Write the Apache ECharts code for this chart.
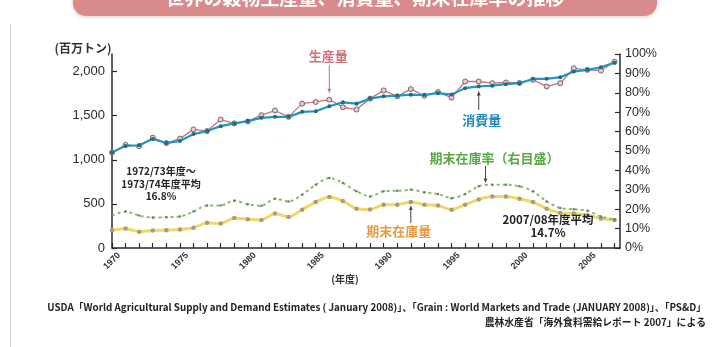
<!DOCTYPE html>
<html>
<head>
<meta charset="utf-8">
<script src="https://cdn.jsdelivr.net/npm/echarts@6/dist/echarts.min.js"></script>
<style>
  html, body { margin: 0; padding: 0; background: #ffffff; }
  #chart { width: 713px; height: 347px; }
</style>
</head>
<body>
<div id="chart"></div>
<script>
// 世界の穀物生産量・消費量・期末在庫量（百万トン）と期末在庫率（%）
const years = [
  1970, 1971, 1972, 1973, 1974, 1975, 1976, 1977, 1978, 1979,
  1980, 1981, 1982, 1983, 1984, 1985, 1986, 1987, 1988, 1989,
  1990, 1991, 1992, 1993, 1994, 1995, 1996, 1997, 1998, 1999,
  2000, 2001, 2002, 2003, 2004, 2005, 2006, 2007
];
const production = [
  1082, 1169, 1155, 1251, 1190, 1240, 1345, 1326, 1457, 1413,
  1435, 1506, 1559, 1487, 1637, 1656, 1682, 1596, 1570, 1694,
  1787, 1720, 1802, 1727, 1768, 1705, 1888, 1888, 1869, 1877,
  1872, 1907, 1832, 1869, 2038, 2020, 2012, 2113
];
const consumption = [
  1082, 1158, 1165, 1236, 1190, 1214, 1292, 1326, 1382, 1413,
  1439, 1476, 1487, 1487, 1544, 1551, 1607, 1652, 1637, 1694,
  1720, 1727, 1739, 1735, 1757, 1740, 1813, 1832, 1840, 1858,
  1869, 1918, 1918, 1937, 2001, 2020, 2049, 2102
];
const endingStocks = [
  202, 221, 184, 199, 202, 210, 229, 285, 277, 341,
  326, 318, 390, 352, 435, 521, 577, 532, 446, 438,
  491, 491, 521, 491, 483, 435, 491, 551, 584, 584,
  558, 521, 446, 397, 390, 371, 334, 318
];
const stockRatio = [
  16.8, 18.8, 16.7, 15.7, 15.9, 16.2, 18.8, 21.9, 21.9, 24.4,
  22.6, 21.8, 25.4, 24.0, 27.5, 32.6, 36.1, 33.5, 29.2, 26.6,
  29.2, 29.5, 30.0, 28.7, 27.8, 25.7, 27.8, 31.8, 32.6, 32.6,
  31.8, 29.2, 24.0, 20.6, 20.0, 19.2, 16.2, 14.7
];
const leftTicks = [0, 500, 1000, 1500, 2000];
const yearLabels = [1970, 1975, 1980, 1985, 1990, 1995, 2000, 2005];

const pair = (vals) => years.map((y, i) => [y, vals[i]]);

const NUM_FONT = 'Liberation Sans, Arial, sans-serif';
const JP_FONT = '"Noto Sans CJK JP", "Noto Sans", sans-serif';
const AXIS_COLOR = '#2b2b2b';

const chart = echarts.init(document.getElementById('chart'), null, { renderer: 'canvas' });

const option = {
  animation: false,
  backgroundColor: '#ffffff',
  grid: { left: 112, right: 93, top: 54, bottom: 99, containLabel: false },
  xAxis: {
    type: 'value',
    min: 1970,
    max: 2007.4,
    interval: 1,
    splitLine: { show: false },
    axisLine: { show: true, lineStyle: { color: AXIS_COLOR, width: 1.5 } },
    axisTick: { show: true, inside: true, length: 5, customValues: years,
                lineStyle: { color: AXIS_COLOR, width: 1.2 } },
    axisLabel: {
      customValues: yearLabels,
      rotate: 45,
      margin: 13,
      align: 'center',
      verticalAlign: 'middle',
      fontSize: 9,
      fontWeight: 'bold',
      color: '#333',
      fontFamily: NUM_FONT,
      formatter: (v) => String(v)
    }
  },
  yAxis: [
    {
      type: 'value',
      min: 0,
      max: 2200,
      position: 'left',
      splitLine: { show: false },
      axisLine: { show: true, lineStyle: { color: AXIS_COLOR, width: 1.5 } },
      axisTick: { show: true, inside: true, length: 5, customValues: leftTicks,
                  lineStyle: { color: AXIS_COLOR, width: 1.2 } },
      axisLabel: {
        customValues: leftTicks,
        margin: 7,
        fontSize: 13,
        color: '#2a2a2a',
        fontFamily: NUM_FONT,
        formatter: (v) => v.toLocaleString('en-US')
      }
    },
    {
      type: 'value',
      min: 0,
      max: 100,
      interval: 10,
      position: 'right',
      splitLine: { show: false },
      axisLine: { show: true, lineStyle: { color: AXIS_COLOR, width: 1.5 } },
      axisTick: { show: true, inside: true, length: 5, lineStyle: { color: AXIS_COLOR, width: 1.2 } },
      axisLabel: {
        margin: 5,
        fontSize: 12.5,
        color: '#2a2a2a',
        fontFamily: NUM_FONT,
        formatter: '{value}%'
      }
    }
  ],
  series: [
    {
      name: '期末在庫量',
      type: 'line',
      yAxisIndex: 0,
      data: pair(endingStocks),
      smooth: 0.25,
      lineStyle: { color: '#f2d764', width: 3 },
      symbol: 'circle',
      symbolSize: 4.5,
      itemStyle: { color: '#a89d7a', borderWidth: 0 },
      z: 2
    },
    {
      name: '期末在庫率',
      type: 'line',
      yAxisIndex: 1,
      data: pair(stockRatio),
      smooth: 0.3,
      lineStyle: { color: '#86bf6a', width: 2, type: [3, 3] },
      symbol: 'circle',
      symbolSize: 2.5,
      itemStyle: { color: '#6f7f6a', borderWidth: 0 },
      z: 2
    },
    {
      name: '生産量',
      type: 'line',
      yAxisIndex: 0,
      data: pair(production),
      lineStyle: { color: '#c9727d', width: 1.3 },
      symbol: 'circle',
      symbolSize: 5,
      itemStyle: { color: '#f2c6ca', borderColor: '#6a6a6a', borderWidth: 1 },
      z: 3
    },
    {
      name: '消費量',
      type: 'line',
      yAxisIndex: 0,
      data: pair(consumption),
      lineStyle: { color: '#1c98c8', width: 2.2 },
      symbol: 'circle',
      symbolSize: 4,
      itemStyle: { color: '#2f6676', borderWidth: 0 },
      z: 4
    }
  ]
};

chart.setOption(option);

// Leader lines and labels anchored to points on the series
function at(seriesIndex, year, value) {
  return chart.convertToPixel({ seriesIndex: seriesIndex }, [year, value]);
}
function leader(x, y1, y2, color) {
  const dir = y2 > y1 ? 1 : -1;
  return [{
    type: 'line',
    shape: { x1: x, y1: y1, x2: x, y2: y2 },
    style: { stroke: color, lineWidth: 1 },
    z: 50
  }, {
    type: 'polygon',
    shape: { points: [[x - 2, y2 - dir * 4], [x + 2, y2 - dir * 4], [x, y2]] },
    style: { fill: color },
    z: 50
  }];
}
function label(x, y, text, color, size) {
  return {
    type: 'text',
    x: x, y: y,
    style: {
      text: text, fill: color, font: 'bold ' + size + 'px ' + JP_FONT,
      textAlign: 'center', textVerticalAlign: 'middle'
    },
    z: 60
  };
}

const iYear = (y) => years.indexOf(y);
const pProd = at(2, 1986, production[iYear(1986)]);
const pCons = at(3, 1997, consumption[iYear(1997)]);
const pRatio = at(1, 1997.5, (stockRatio[iYear(1997)] + stockRatio[iYear(1998)]) / 2);
const pStock = at(0, 1992, endingStocks[iYear(1992)]);

const NOTE_FONT = 'bold 9.8px "Liberation Sans Narrow", ' + JP_FONT;

const graphics = [
  // page edge
  { type: 'line', shape: { x1: 10.5, y1: 24, x2: 10.5, y2: 347 },
    style: { stroke: '#d6d6d6', lineWidth: 1 }, z: 1 },
  // heading band
  { type: 'rect', shape: { x: 73, y: -22, width: 584, height: 38, r: 13 },
    style: { fill: '#d98a8b', shadowBlur: 4, shadowColor: 'rgba(0,0,0,0.18)', shadowOffsetY: 1 }, z: 10 },
  { type: 'text', x: 365, y: -2,
    style: { text: '世界の穀物生産量、消費量、期末在庫率の推移', fill: '#ffffff',
             font: 'bold 19px ' + JP_FONT, textAlign: 'center', textVerticalAlign: 'middle' }, z: 11 },
  // axis titles
  { type: 'text', x: 83, y: 48,
    style: { text: '(百万トン)', fill: '#333', font: 'bold 12px ' + JP_FONT,
             textAlign: 'center', textVerticalAlign: 'middle' }, z: 20 },
  { type: 'text', x: 345, y: 279,
    style: { text: '(年度)', fill: '#333', font: 'bold 10px ' + JP_FONT,
             textAlign: 'center', textVerticalAlign: 'middle' }, z: 20 },
  // series labels
  label(pProd[0] - 1, 56, '生産量', '#d0707c', 13),
  ...leader(pProd[0], 65, pProd[1] - 7, '#c9727d'),
  label(pCons[0] + 3, 120, '消費量', '#2388bd', 13),
  ...leader(pCons[0], 110, pCons[1] + 5, '#444'),
  label(pRatio[0] + 9, 158, '期末在庫率（右目盛）', '#5aa845', 13),
  ...leader(pRatio[0], 166, pRatio[1] - 3, '#444'),
  label(pStock[0] - 12, 231, '期末在庫量', '#e99a3e', 13),
  ...leader(pStock[0], 223, pStock[1] + 4, '#444'),
  // period averages
  { type: 'text', x: 161, y: 184,
    style: { text: '1972/73年度～\n1973/74年度平均\n16.8%', fill: '#222',
             font: 'bold 10px ' + JP_FONT, lineHeight: 12.5,
             textAlign: 'center', textVerticalAlign: 'middle' }, z: 20 },
  { type: 'text', x: 548, y: 226,
    style: { text: '2007/08年度平均\n14.7%', fill: '#222',
             font: 'bold 11.5px ' + JP_FONT, lineHeight: 13,
             textAlign: 'center', textVerticalAlign: 'middle' }, z: 20 },
  // source notes
  { type: 'text', x: 706, y: 307,
    style: { text: 'USDA「World Agricultural Supply and Demand Estimates ( January 2008)」、「Grain : World Markets and Trade (JANUARY 2008)」、「PS&D」',
             fill: '#222', font: NOTE_FONT,
             textAlign: 'right', textVerticalAlign: 'middle' }, z: 20 },
  { type: 'text', x: 706, y: 322,
    style: { text: '農林水産省「海外食料需給レポート 2007」による',
             fill: '#222', font: NOTE_FONT,
             textAlign: 'right', textVerticalAlign: 'middle' }, z: 20 }
];

chart.setOption({ graphic: graphics });
</script>
</body>
</html>
